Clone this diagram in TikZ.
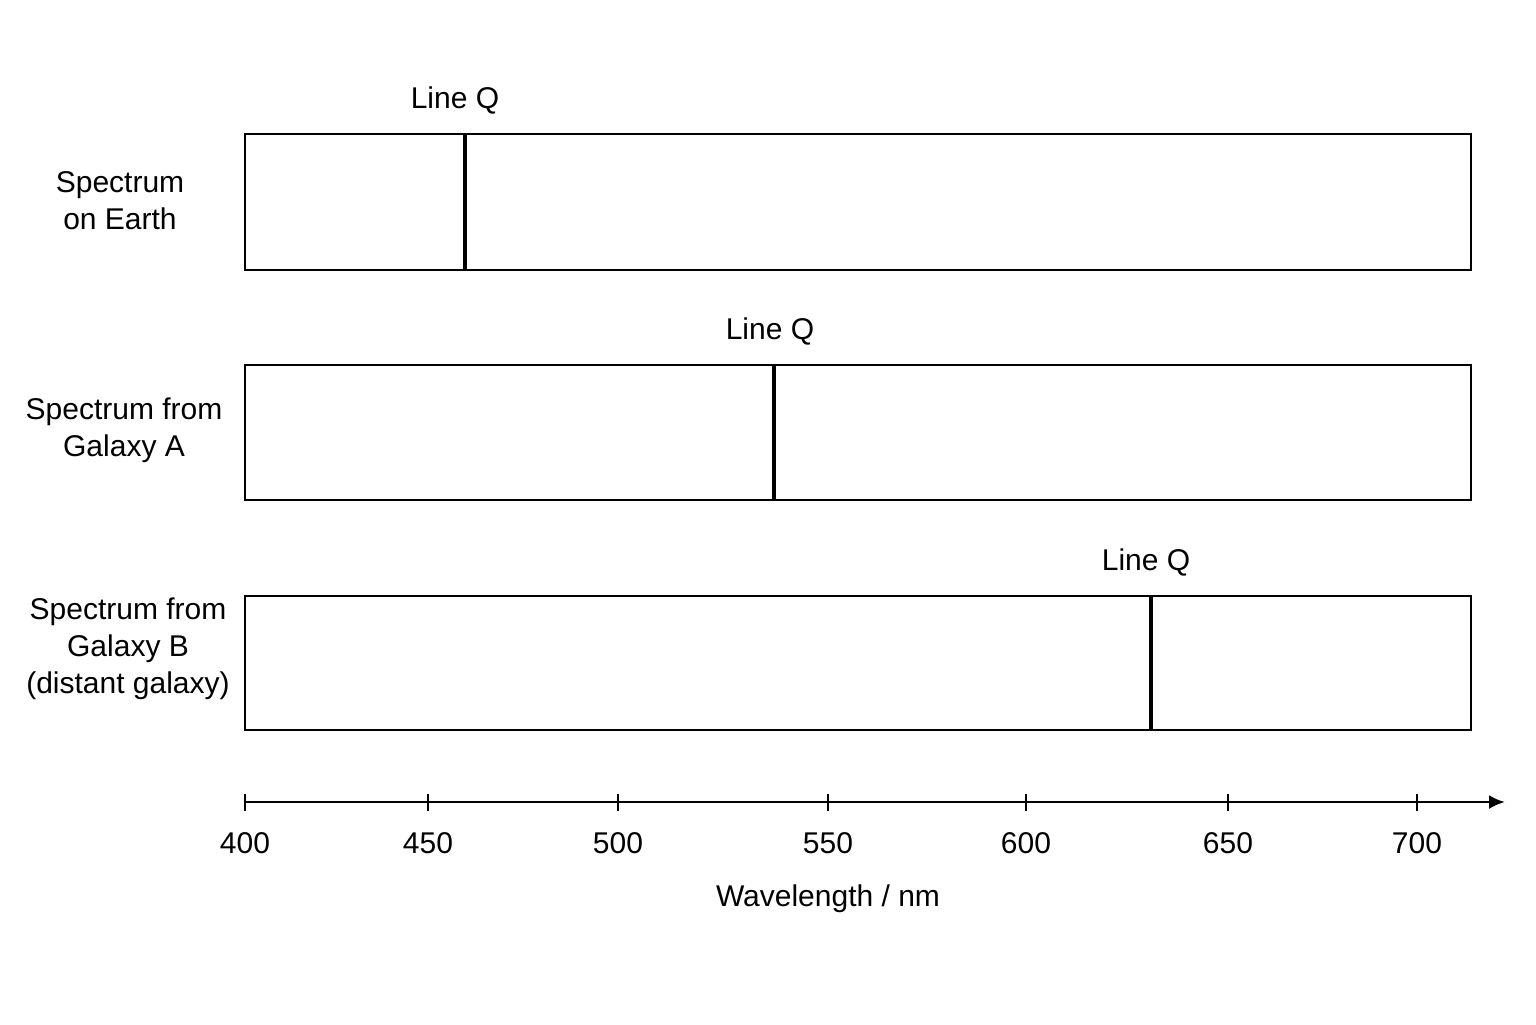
\documentclass[tikz,border=0pt]{standalone}
\usepackage{fontspec}
\setmainfont{Liberation Sans}
\usetikzlibrary{arrows.meta}

\tikzset{
    rotulo/.style={font=\fontsize{15pt}{18.5pt}\selectfont, inner sep=0pt},
    espectro/.style={draw, line width=1.15pt},
    raia/.style={line width=1.7pt},
}

\begin{document}
\begin{tikzpicture}[x=0.5pt, y=-0.5pt]
            \useasboundingbox (0, 0) rectangle (1536, 1024);

            % Espectro na Terra
            \draw[espectro] (245, 134) rectangle (1471, 270);
            \coordinate (q1_top) at (465, 134);
            \coordinate (q1_bot) at (465, 270);
            \draw[raia] (q1_top) -- (q1_bot); % Linha Q
            \node[rotulo, anchor=base] (q1_lab) at (455, 108) {Line Q};
            \node[rotulo, align=center] (terra) at (120, 201) {Spectrum\\on Earth};

            % Espectro da galáxia A
            \draw[espectro] (245, 365) rectangle (1471, 500);
            \coordinate (q2_top) at (774, 365);
            \coordinate (q2_bot) at (774, 500);
            \draw[raia] (q2_top) -- (q2_bot); % Linha Q
            \node[rotulo, anchor=base] (q2_lab) at (770, 339) {Line Q};
            \node[rotulo, align=center] (galA) at (124, 430) {Spectrum from\\Galaxy A};

            % Espectro da galáxia B
            \draw[espectro] (245, 596) rectangle (1471, 730);
            \coordinate (q3_top) at (1151, 596);
            \coordinate (q3_bot) at (1151, 730);
            \draw[raia] (q3_top) -- (q3_bot); % Linha Q
            \node[rotulo, anchor=base] (q3_lab) at (1146, 570) {Line Q};
            \node[rotulo, align=center] (galB) at (128, 649) {Spectrum from\\Galaxy B\\(distant galaxy)};

            % Eixo do comprimento de onda
            \coordinate (ax_ini) at (245, 802);
            \coordinate (ax_fim) at (1505, 802);
            \draw[line width=1.35pt, -{Latex[length=8pt, width=7pt]}] (ax_ini) -- (ax_fim);
            \foreach \x/\lam in {245/400, 428/450, 618/500, 828/550, 1026/600, 1228/650, 1417/700} {
                \coordinate (t\lam_a) at (\x, 794);
                \coordinate (t\lam_b) at (\x, 811);
                \draw[line width=1.35pt] (t\lam_a) -- (t\lam_b);
                \node[rotulo] (n\lam) at (\x, 843) {\lam};
            }

            % Rótulo
            \node[rotulo, anchor=base] (eixo_lab) at (828, 906) {Wavelength / nm};
        \end{tikzpicture}
\end{document}
